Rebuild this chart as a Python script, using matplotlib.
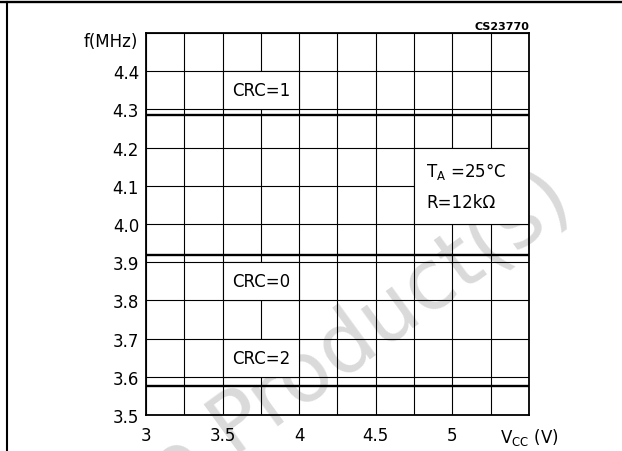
''' oscillator frequency vs supply voltage '''
import numpy as np
import matplotlib
matplotlib.use('Agg')
import matplotlib.pyplot as plt
from matplotlib.patches import Rectangle
from matplotlib.lines import Line2D

plt.rcParams['font.family'] = ['DejaVu Sans']

# data
vcc = [3.0, 5.5]
crc_labels = ['CRC=1', 'CRC=0', 'CRC=2']
crc_freq = [4.285, 3.92, 3.575]
crc_label_y = [4.35, 3.85, 3.65]
x_ticks = [3, 3.5, 4, 4.5, 5, 5.5]
x_ticklabels = ['3', '3.5', '4', '4.5', '5', r'V$_{\mathregular{CC}}$ (V)']
y_ticks = [3.5, 3.6, 3.7, 3.8, 3.9, 4.0, 4.1, 4.2, 4.3, 4.4]
y_ticklabels = ['3.5', '3.6', '3.7', '3.8', '3.9', '4.0', '4.1', '4.2', '4.3', '4.4']

fig = plt.figure(figsize=(6.22, 4.52), dpi=100)

# frame of the datasheet table
fig.add_artist(Line2D([0, 1], [1 - 2.8 / 452, 1 - 2.8 / 452], color='black', lw=1.7))
fig.add_artist(Line2D([7 / 622, 7 / 622], [0, 1 - 2.8 / 452], color='black', lw=1.5))

# watermark
wm = dict(fontsize=60, color='#dadada', rotation=36, rotation_mode='anchor',
          va='baseline', zorder=-1)
fig.text(232 / 622, -2 / 452, 'Product(s)', ha='left', **wm)
fig.text(212 / 622, -17 / 452, 'Obsolete', ha='right', **wm)

ax = fig.add_axes([146 / 622, 1 - 416 / 452, 383 / 622, 382 / 452])
ax.patch.set_alpha(0)
ax.set_xlim(3, 5.5)
ax.set_ylim(3.5, 4.5)

ax.set_xticks(x_ticks)
ax.set_xticklabels(x_ticklabels)
ax.set_xticks(np.arange(3, 5.51, 0.25), minor=True)
ax.set_yticks(y_ticks)
ax.set_yticklabels(y_ticklabels)
ax.set_yticks(np.arange(3.5, 4.51, 0.1), minor=True)
ax.tick_params(which='both', length=0, labelsize=12)
ax.tick_params(axis='x', pad=8)
ax.tick_params(axis='y', pad=5)
ax.set_axisbelow(True)
ax.grid(which='both', color='black', lw=0.8)
for s in ax.spines.values():
    s.set_linewidth(1.3)

# white cells behind the labels
for y in crc_label_y:
    ax.add_patch(Rectangle((3.5, y - 0.05), 0.5, 0.1, facecolor='white',
                           edgecolor='black', lw=0.8, zorder=1))

ax.add_patch(Rectangle((4.75, 4.0), 0.75, 0.2, facecolor='white',
                       edgecolor='black', lw=0.8, zorder=1))

for f in crc_freq:
    ax.plot(vcc, [f, f], color='black', lw=1.7, zorder=3)

for lab, y in zip(crc_labels, crc_label_y):
    ax.text(3.75, y, lab, fontsize=12, ha='center', va='center', zorder=4)

ax.text(4.83, 4.139, r'T$_{\mathregular{A}}$ =25°C', fontsize=12, ha='left', va='center', zorder=4)
ax.text(4.83, 4.058, 'R=12kΩ', fontsize=12, ha='left', va='center', zorder=4)

ax.text(-0.02, 4.479, 'f(MHz)', fontsize=12, ha='right', va='center',
        transform=ax.get_yaxis_transform())
ax.text(1.0, 1.006, 'CS23770', fontsize=8, fontweight='bold', ha='right', va='bottom',
        transform=ax.transAxes)

fig.savefig('out.png', dpi=100)
